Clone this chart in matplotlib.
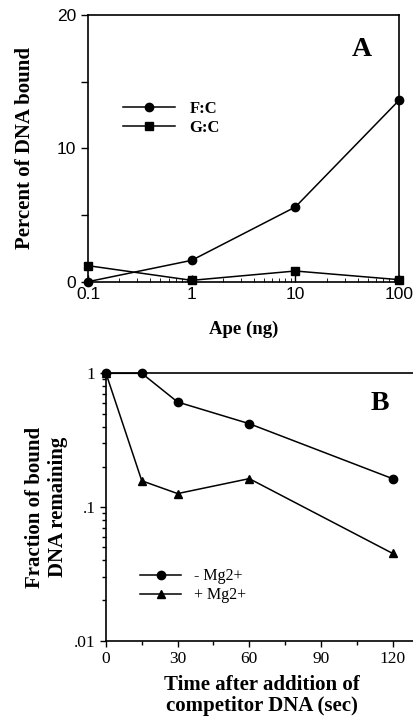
import matplotlib
matplotlib.use("Agg")
import matplotlib.pyplot as plt
from matplotlib.ticker import FixedLocator, LogLocator, NullFormatter

# panel A data
ape_ng = [0.1, 1, 10, 100]
fc = [0.0, 1.6, 5.6, 13.6]
gc = [1.2, 0.1, 0.8, 0.15]

# panel B data
time_sec = [0, 15, 30, 60, 120]
minus_mg = [1.0, 1.0, 0.61, 0.42, 0.163]
plus_mg = [1.0, 0.157, 0.126, 0.163, 0.045]

serif = "Liberation Serif"
sans = "Liberation Sans"

fig = plt.figure(figsize=(4.14, 7.16), dpi=100)

# ---- panel A ----
ax1 = fig.add_axes([0.2126, 0.6066, 0.7512, 0.3725])
ax1.plot(ape_ng, fc, color="black", lw=1.1, marker="o", ms=6, label="F:C", clip_on=False)
ax1.plot(ape_ng, gc, color="black", lw=1.1, marker="s", ms=6, label="G:C", clip_on=False)
ax1.set_xscale("log")
ax1.set_xlim(0.1, 100)
ax1.set_ylim(0, 20)
ax1.set_xticks([0.1, 1, 10, 100])
ax1.set_xticklabels(["0.1", "1", "10", "100"])
ax1.set_yticks([0, 5, 10, 15, 20])
ax1.set_yticklabels(["0", "", "10", "", "20"])
ax1.tick_params(axis="x", which="both", direction="in")
ax1.tick_params(axis="x", which="major", length=5)
ax1.tick_params(axis="x", which="minor", length=3)
ax1.tick_params(axis="y", direction="out", length=5)
ax1.tick_params(labelsize=12.5, width=1)
for lab in ax1.get_xticklabels() + ax1.get_yticklabels():
    lab.set_fontfamily(sans)
for s in ax1.spines.values():
    s.set_linewidth(1.2)
ax1.set_xlabel("Ape (ng)", fontfamily=serif, fontweight="bold", fontsize=13.5, labelpad=14)
ax1.set_ylabel("Percent of DNA bound", fontfamily=serif, fontweight="bold", fontsize=15, labelpad=16)
ax1.text(0.88, 0.87, "A", transform=ax1.transAxes, fontfamily=serif, fontweight="bold",
         fontsize=20, ha="center", va="center")
ax1.legend(loc="center left", bbox_to_anchor=(0.1125, 0.612), frameon=False,
           prop={"family": serif, "weight": "bold", "size": 12},
           handlelength=3.1, handletextpad=0.9, labelspacing=0.15,
           borderpad=0, borderaxespad=0)

# ---- panel B ----
ax2 = fig.add_axes([0.256, 0.1052, 0.744, 0.3734])
ax2.plot(time_sec, minus_mg, color="black", lw=1.1, marker="o", ms=6, label="- Mg2+", clip_on=False)
ax2.plot(time_sec, plus_mg, color="black", lw=1.1, marker="^", ms=6, label="+ Mg2+", clip_on=False)
ax2.set_yscale("log")
ax2.set_ylim(0.01, 1)
ax2.set_xlim(0, 129)
ax2.set_xticks([0, 30, 60, 90, 120])
ax2.xaxis.set_minor_locator(FixedLocator([15, 45, 75, 105]))
ax2.set_yticks([0.01, 0.1, 1])
ax2.set_yticklabels([".01", ".1", "1"])
ax2.yaxis.set_minor_locator(LogLocator(base=10, subs=range(2, 10)))
ax2.yaxis.set_minor_formatter(NullFormatter())
ax2.tick_params(which="both", direction="out", labelsize=12.5, width=1)
ax2.tick_params(which="major", length=4)
ax2.tick_params(which="minor", length=3)
for lab in ax2.get_xticklabels() + ax2.get_yticklabels():
    lab.set_fontfamily(serif)
ax2.spines["right"].set_visible(False)
for s in ["left", "bottom", "top"]:
    ax2.spines[s].set_linewidth(1.2)
ax2.set_xlabel("Time after addition of\ncompetitor DNA (sec)", fontfamily=serif,
               fontweight="bold", fontsize=15, linespacing=1.05)
ax2.xaxis.set_label_coords(0.505, -0.13, transform=ax2.transAxes)
ax2.xaxis.label.set_va("top")
ax2.set_ylabel("Fraction of bound\nDNA remaining", fontfamily=serif, fontweight="bold",
               fontsize=15, labelpad=4, linespacing=1.2)
ax2.text(0.89, 0.888, "B", transform=ax2.transAxes, fontfamily=serif, fontweight="bold",
         fontsize=20, ha="center", va="center")
ax2.legend(loc="center left", bbox_to_anchor=(0.11, 0.205), frameon=False,
           prop={"family": serif, "size": 11.5},
           handlelength=2.6, handletextpad=0.8, labelspacing=0.2,
           borderpad=0, borderaxespad=0)

fig.savefig("out.png", dpi=100)
